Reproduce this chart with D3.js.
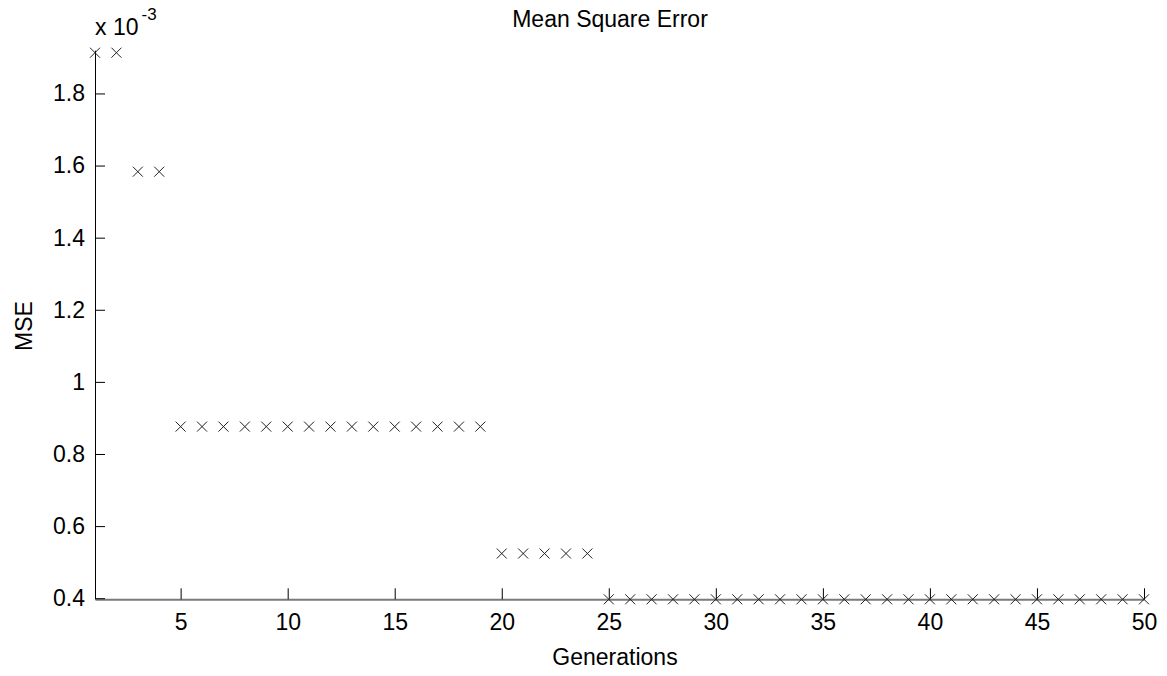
<!DOCTYPE html>
<html>
<head>
<meta charset="utf-8">
<script src="https://cdn.jsdelivr.net/npm/d3@7"></script>
<style>
  html, body { margin: 0; padding: 0; background: #fff; }
  svg { display: block; font-family: "Liberation Sans", Arial, sans-serif; }
</style>
</head>
<body>
<svg id="chart" width="1167" height="676"></svg>
<script>
// ---- data (MSE values in units of 10^-3) ----
const generations = [1,2,3,4,5,6,7,8,9,10,11,12,13,14,15,16,17,18,19,20,21,22,23,24,25,
                     26,27,28,29,30,31,32,33,34,35,36,37,38,39,40,41,42,43,44,45,46,47,48,49,50];
const mseValues = [1.913,1.913,1.583,1.583,
                   0.876,0.876,0.876,0.876,0.876,0.876,0.876,0.876,0.876,0.876,0.876,0.876,0.876,0.876,0.876,
                   0.524,0.524,0.524,0.524,0.524,
                   0.397,0.397,0.397,0.397,0.397,0.397,0.397,0.397,0.397,0.397,0.397,0.397,0.397,
                   0.397,0.397,0.397,0.397,0.397,0.397,0.397,0.397,0.397,0.397,0.397,0.397,0.397];
const xTicks = [5,10,15,20,25,30,35,40,45,50];
const yTicks = [0.4,0.6,0.8,1,1.2,1.4,1.6,1.8];
const yExponent = "-3";
const titleText = "Mean Square Error";
const xLabelText = "Generations";
const yLabelText = "MSE";

// ---- layout ----
const svg = d3.select("#chart");
const mLeft = 95, mRight = 1144, mTop = 52.7, mBottom = 599.3;
const fs = 23;

const x = d3.scaleLinear().domain([1, 50]).range([mLeft, mRight]);
const y = d3.scaleLinear().domain([d3.min(mseValues), d3.max(mseValues)]).range([mBottom, mTop]);

// x axis (ticks pointing inward)
const xAxis = d3.axisBottom(x).tickValues(xTicks).tickSizeInner(-11).tickSizeOuter(0).tickPadding(14)
  .tickFormat(d3.format("d"));
const gx = svg.append("g").attr("transform", `translate(0,${mBottom})`).call(xAxis);
gx.select(".domain").attr("stroke", "#7a7a7a").attr("stroke-width", 2);
gx.selectAll(".tick line").attr("stroke", "#000");
gx.selectAll(".tick text").attr("font-size", fs).attr("fill", "#000")
  .attr("font-family", "Liberation Sans, Arial, sans-serif");

// y axis
const yAxis = d3.axisLeft(y).tickValues(yTicks).tickSizeInner(-10).tickSizeOuter(0).tickPadding(10)
  .tickFormat(d => String(+d.toFixed(1)));
const gy = svg.append("g").attr("transform", `translate(${mLeft},0)`).call(yAxis);
gy.select(".domain").attr("stroke", "#000").attr("stroke-width", 1).attr("d", `M0.5,${mTop - 2}V${mBottom}`);
gy.selectAll(".tick line").attr("stroke", "#000");
gy.selectAll(".tick text").attr("font-size", fs).attr("fill", "#000")
  .attr("font-family", "Liberation Sans, Arial, sans-serif");

// markers 'x'
const r = 5;
const pts = svg.append("g").attr("stroke", "#222").attr("stroke-width", 1).attr("fill", "none");
generations.forEach((g, i) => {
  const cx = x(g), cy = y(mseValues[i]);
  pts.append("path").attr("d", `M${cx - r},${cy - r}L${cx + r},${cy + r}M${cx - r},${cy + r}L${cx + r},${cy - r}`);
});

// exponent label
const ex = svg.append("text").attr("x", mLeft).attr("y", 35).attr("font-size", fs).attr("fill", "#000");
ex.append("tspan").text("x 10");
ex.append("tspan").attr("dy", -15).attr("dx", 3).attr("font-size", 17).text(yExponent);

// title
svg.append("text").attr("x", 610).attr("y", 27).attr("text-anchor", "middle")
  .attr("font-size", fs).attr("fill", "#000").text(titleText);

// x label
svg.append("text").attr("x", 615).attr("y", 665).attr("text-anchor", "middle")
  .attr("font-size", fs).attr("fill", "#000").text(xLabelText);

// y label
svg.append("text").attr("transform", `translate(32,${(mTop + mBottom) / 2}) rotate(-90)`)
  .attr("text-anchor", "middle").attr("font-size", fs).attr("fill", "#000").text(yLabelText);
</script>
</body>
</html>
